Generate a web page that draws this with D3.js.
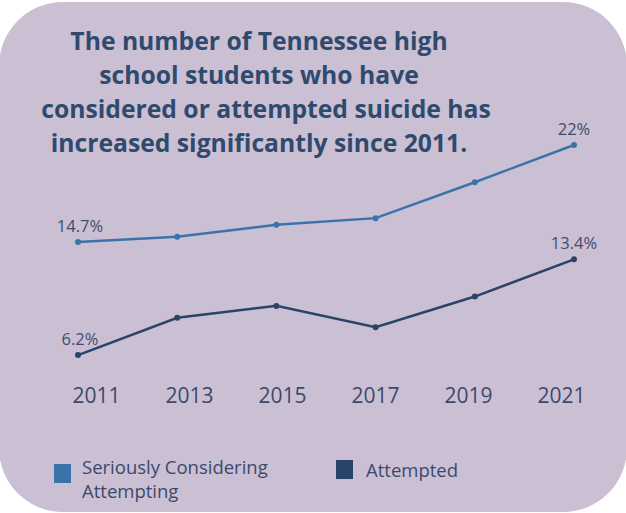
<!DOCTYPE html>
<html lang="en">
<head>
  <meta charset="UTF-8">
  <title>Tennessee suicide ideation chart</title>
  <script src="https://d3js.org/d3.v7.min.js"></script>
  <style>
    body { margin: 0; background: #fff; }
    svg { display: block; font-family: "Open Sans", sans-serif; }
    .title { font-size: 24.7px; font-weight: bold; fill: #2f4a6d; text-anchor: middle; }
    .value { font-size: 16.5px; fill: #3f4c6e; text-anchor: middle; }
    .tick-label { font-size: 21px; fill: #3b4a6c; text-anchor: middle; font-family: "Open Sans", sans-serif; }
    .legend-text { font-size: 18.5px; fill: #3b4a6c; }
  </style>
</head>
<body>
  <div id="chart"></div>
  <script>
    const years = ["2011", "2013", "2015", "2017", "2019", "2021"];
    const considered = [14.7, 15.1, 16.0, 16.5, 19.2, 22.0];
    const attempted = [6.2, 9.0, 9.9, 8.3, 10.6, 13.4];
    const seriesNames = ["Seriously Considering Attempting", "Attempted"];
    const titleLines = [
      "The number of Tennessee high",
      "school students who have",
      "considered or attempted suicide has",
      "increased significantly since 2011."
    ];

    const W = 626, H = 513;
    const colors = ["#3a73aa", "#2a4469"];

    const svg = d3.select("#chart")
      .append("svg")
      .attr("width", W)
      .attr("height", H);

    // rounded purple card
    svg.append("rect")
      .attr("x", -1)
      .attr("y", 2)
      .attr("width", 628)
      .attr("height", 510)
      .attr("rx", 64)
      .attr("fill", "#cbbfd4");

    // title
    svg.selectAll(".title")
      .data(titleLines)
      .enter()
      .append("text")
      .attr("class", "title")
      .attr("x", (d, i) => i === 2 ? 266 : 259)
      .attr("y", (d, i) => 50 + i * 34)
      .text(d => d);

    const x = d3.scalePoint().domain(years).range([78, 574]);
    const y = d3.scaleLinear().domain([0, 22]).range([437.5, 145]);
    // the year labels sit a little apart from the points
    const xLabel = d3.scalePoint().domain(years).range([96, 561]);

    const line = d3.line()
      .x((d, i) => x(years[i]))
      .y(d => y(d));

    [considered, attempted].forEach((vals, s) => {
      svg.append("path")
        .datum(vals)
        .attr("fill", "none")
        .attr("stroke", colors[s])
        .attr("stroke-width", 2.5)
        .attr("d", line);

      svg.selectAll(".pt" + s)
        .data(vals)
        .enter()
        .append("circle")
        .attr("class", "pt" + s)
        .attr("cx", (d, i) => x(years[i]))
        .attr("cy", d => y(d))
        .attr("r", 3)
        .attr("fill", colors[s]);

      // labels only on first and last points
      const ends = [0, vals.length - 1];
      svg.selectAll(".val" + s)
        .data(ends)
        .enter()
        .append("text")
        .attr("class", "value val" + s)
        .attr("x", i => x(years[i]) + (i === 0 ? 2 : 0))
        .attr("y", i => y(vals[i]) - 10)
        .text(i => (vals[i] % 1 === 0 ? vals[i].toFixed(0) : vals[i].toFixed(1)) + "%");
    });

    // x axis (labels only)
    const axis = svg.append("g")
      .attr("transform", "translate(0,403)")
      .call(d3.axisBottom(xLabel).tickSize(0).tickPadding(0));
    axis.attr("font-family", null).attr("font-size", null);
    axis.select(".domain").remove();
    axis.selectAll("text")
      .attr("class", "tick-label")
      .attr("dy", 0)
      .attr("fill", null);

    // legend
    const legend = svg.append("g");
    legend.append("rect")
      .attr("x", 54).attr("y", 464).attr("width", 17).attr("height", 19)
      .attr("fill", colors[0]);
    legend.append("text")
      .attr("class", "legend-text")
      .attr("x", 82).attr("y", 474)
      .selectAll("tspan")
      .data(["Seriously Considering", "Attempting"])
      .enter()
      .append("tspan")
      .attr("x", 82)
      .attr("dy", (d, i) => i === 0 ? 0 : 24)
      .text(d => d);
    legend.append("rect")
      .attr("x", 336).attr("y", 460).attr("width", 17).attr("height", 19)
      .attr("fill", colors[1]);
    legend.append("text")
      .attr("class", "legend-text")
      .attr("x", 366).attr("y", 477)
      .text(seriesNames[1]);
  </script>
</body>
</html>
